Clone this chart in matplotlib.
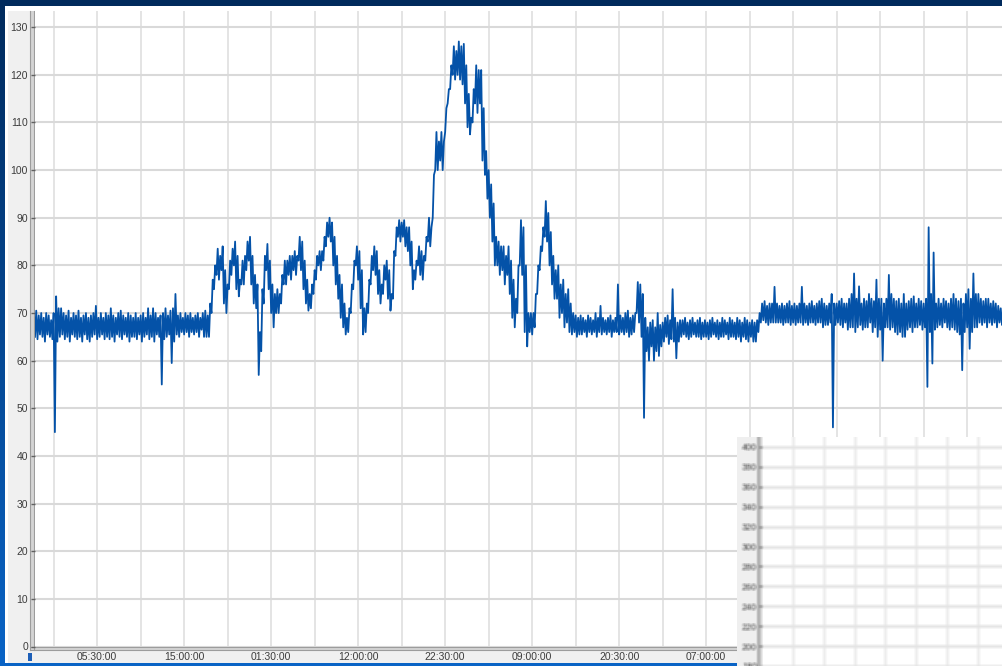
import numpy as np
import matplotlib
matplotlib.use("Agg")
from matplotlib import pyplot as plt
from matplotlib import patches
from matplotlib.colors import LinearSegmentedColormap
from matplotlib.figure import Figure
from matplotlib.backends.backend_agg import FigureCanvasAgg

W, H = 1003, 666

# heart rate per 0.3 h interval: lowest and highest reading in each interval
hr_lo = [
    65, 64.5, 65.5, 65, 64, 65.5, 65, 64.5, 45, 64,
    65, 65.5, 64.5, 65, 64, 65.5, 65, 64.5, 65, 64,
    65.5, 64.5, 64, 65, 65.5, 64.5, 65, 65.5, 64.5, 65,
    64.5, 65, 64, 65.5, 65, 64.5, 65.5, 65, 64, 65,
    65, 64.5, 65.5, 64, 65, 65.5, 64.5, 65, 64, 65.5,
    65, 55, 64.5, 65, 65.5, 59.5, 64, 65.5, 65, 66,
    65.5, 66, 65, 66, 65.5, 66, 65, 66.5, 65, 65,
    65, 70, 75, 78, 77, 79, 72, 70, 75, 78,
    80, 75, 73.5, 76, 76, 79, 81, 76, 72, 71,
    57, 62, 72, 79, 75, 70, 67, 70, 70, 72,
    76, 76, 78, 77, 79, 78, 81, 79, 75, 72,
    70.5, 71, 74, 77, 80, 79, 81, 84, 86, 85,
    80, 76, 73, 69, 67, 65.5, 66, 70, 75, 80,
    77, 71, 65.5, 66, 70, 76, 79, 78, 74, 72,
    74, 77, 73, 70.5, 73, 82, 86, 85, 86, 84,
    83, 80, 75, 77, 80, 78, 77, 81, 85, 84,
    90, 100, 100, 102, 100, 108, 114, 117, 120, 119,
    120, 119, 118, 114, 109, 107.5, 110, 114, 112, 114,
    102, 99, 94, 90, 85, 80, 80, 78, 79, 76,
    78, 74, 69, 67, 70, 80, 78, 66, 63, 66,
    65.5, 67, 74, 79, 83, 86, 85, 80, 76, 73,
    73, 69, 70, 67, 68, 66, 65.5, 66, 65, 65.5,
    65.5, 66, 65, 66, 65.5, 66, 65, 66, 65.5, 66,
    65.5, 66, 65, 66, 66, 65.5, 66, 65.5, 66, 65,
    65.5, 66, 70, 68, 65, 48, 62, 60, 63, 60,
    62, 61, 63, 64, 65, 63.5, 64.5, 64, 60.5, 64,
    65, 65.5, 65, 64.5, 65, 65.5, 65, 65, 64.5, 65,
    65, 64.5, 65, 65.5, 65, 64.5, 65, 65, 65.5, 64.5,
    65, 65, 64.5, 65, 64, 65, 64.5, 64, 65, 64,
    64, 66, 68, 68.5, 68, 67.5, 68, 68, 68, 68,
    68, 67.5, 68, 68, 67.5, 68, 67.5, 68, 68, 67.5,
    68, 67.5, 68, 68, 67.5, 68, 68, 67, 67.5, 67.5,
    68, 46, 67.5, 68, 67.5, 67, 68, 66.5, 67, 67,
    66, 67, 67.5, 66.5, 67, 67, 68, 66, 67, 65,
    66.5, 60, 67, 67, 66.5, 67, 66, 65.5, 66, 65,
    65, 66.5, 67, 66, 67, 67, 67.5, 66.5, 67, 54.5,
    66, 59.4, 66.5, 67, 67.5, 67, 68, 67, 66.5, 67,
    66.5, 66, 65.5, 58, 66, 67, 62.5, 66, 67, 67,
    68, 67.5, 68, 67, 68, 67.5, 68, 67, 68, 67.5,
]
hr_hi = [
    70.5, 69.5, 70, 69, 70, 69.5, 68.5, 70, 73.5, 71,
    71, 70, 69.5, 70.5, 69, 70, 69.5, 70.5, 69, 69.5,
    70, 69, 69.5, 70, 71.5, 69, 70, 69, 70, 69.5,
    71, 69.5, 69, 70, 70.5, 69.5, 69, 70, 69.5, 69,
    70, 69, 69.5, 70, 69, 71, 69.5, 71, 70, 69,
    69.5, 70, 71, 69.5, 70.5, 71, 74, 69.5, 70, 69,
    70, 69.5, 70, 69, 69.5, 70, 69, 70, 70.5, 69.5,
    72, 77, 80, 83.5, 82, 84, 79, 76, 81, 83.5,
    85, 82, 77, 81, 82, 85, 86, 82, 78, 76,
    66, 75, 82, 84.5, 81, 76, 74, 75, 74, 78,
    81, 81, 82, 82, 83, 82, 86, 85, 81, 77,
    74, 76, 79, 82, 83, 83, 86, 89, 90, 89,
    86, 82, 78, 76, 72, 69, 71, 76, 81, 84,
    83, 79, 71, 72, 77, 82, 84, 83, 79, 76,
    80, 81, 79, 74, 83, 88, 89.5, 89, 89.5, 88,
    88, 85, 79, 81, 84, 83, 82, 86, 90, 88,
    99, 108, 106, 108, 106, 113, 117, 122, 126, 125,
    127, 126, 126.5, 122, 116, 111, 117, 122, 121, 121,
    113, 104, 100, 97, 93, 86, 85, 84, 84, 82,
    84, 81, 77, 73, 80, 89.5, 88, 80, 70, 70,
    70, 74, 80, 84, 88, 93.5, 91, 87, 82, 79,
    80, 76, 77, 74, 75, 72, 70, 69.5, 69, 69.5,
    69, 68.5, 69.5, 69, 68.5, 70, 69, 71.5, 69, 68.5,
    69, 69.5, 68.5, 69, 76, 69.5, 69, 70, 70.5, 69,
    69.5, 70, 76.5, 76, 74, 69, 67, 68, 68.5, 67,
    70, 67.5, 68, 69, 69.5, 68.5, 75, 69, 68, 68.5,
    68.5, 69, 68, 68.5, 69, 68, 68.5, 69, 68, 68.5,
    68, 68.5, 69, 68, 68.5, 68, 69, 68.5, 68, 69,
    68.5, 68, 69, 68.5, 68, 69, 68.5, 68, 68.5, 68,
    68.5, 70, 72, 72.5, 71.5, 72, 72, 75.5, 72, 71.5,
    72, 71.5, 72, 72.5, 71.5, 72, 71.5, 72, 75.5, 72,
    71.5, 72, 72.5, 71.5, 72, 72.5, 73, 72, 71.5, 72,
    74, 72, 72, 72.5, 73, 72, 72, 73, 74, 78.3,
    73, 75.6, 72, 73, 72.5, 74, 73, 72.5, 77, 73,
    73, 72, 73, 78, 74, 73, 72.5, 73, 72, 74,
    72, 72.5, 73, 73.5, 72, 73, 72.5, 72, 73, 88,
    74, 82.7, 72, 73, 72, 73, 72.5, 72, 73, 74,
    73, 72.5, 73, 72, 74, 75, 73, 78.3, 74, 74,
    73, 72.5, 73, 73, 72, 72.5, 72, 71.5, 71, 71,
]
step_h = 0.3

time_labels = ["05:30:00", "15:00:00", "01:30:00", "12:00:00",
               "22:30:00", "09:00:00", "20:30:00", "07:00:00"]
y_ticks = list(range(0, 131, 10))
inset_ticks = list(range(180, 401, 20))

plt.rcParams['font.family'] = ['Liberation Sans', 'DejaVu Sans']

fig = plt.figure(figsize=(W / 100, H / 100), dpi=100)

# window frame, drawn in pixel units
bg = fig.add_axes([0, 0, 1, 1], zorder=0)
bg.set_xlim(0, W)
bg.set_ylim(H, 0)
bg.axis('off')
frame = LinearSegmentedColormap.from_list('frame', ['#002a5c', '#0a64c6'])
bg.imshow(np.linspace(0, 1, 256)[:, None], cmap=frame, extent=(0, W, H, 0),
          aspect='auto')
bg.add_patch(patches.Rectangle((5, 6), W - 5, 657, color='white', lw=0))
bg.add_patch(patches.Rectangle((8, 11), 22, 652, color='#f0f0f0', lw=0))
bg.add_patch(patches.Rectangle((8, 650), W - 8, 13, color='#f0f0f0', lw=0))
bg.add_patch(patches.Rectangle((30, 11), 5, 639, color='#d4d4d4', lw=0))
bg.add_patch(patches.Rectangle((30, 646), W - 30, 4, color='#d4d4d4', lw=0))
for xx in (30.5, 34.5):
    bg.plot([xx, xx], [11, 650], color='#9c9c9c', lw=0.8)
for yy in (646.5, 649.5):
    bg.plot([30, W], [yy, yy], color='#9c9c9c', lw=0.8)
bg.add_patch(patches.Rectangle((28, 653), 4, 8, color='#1d5fb8', lw=0))

# main heart rate chart: trace runs low -> high inside every interval
ax = fig.add_axes([35 / W, (H - 646.5) / H, (W - 35) / W, (646.5 - 11) / H],
                  zorder=1)
t = np.arange(len(hr_lo)) * step_h
trace_t = np.column_stack([t, t + step_h / 2]).ravel()
trace_v = np.column_stack([hr_lo, hr_hi]).ravel()
ax.plot(trace_t, trace_v, color='#0452a8', lw=1.3, solid_joinstyle='round')
ax.set_xlim(0, (W - 35) / 8.286)
ax.set_ylim(0, 133.4)
ax.set_yticks(y_ticks)
ax.set_xticks(7.5 + 10.5 * np.arange(len(time_labels)))
ax.set_xticklabels(time_labels)
ax.set_xticks(np.arange(2.25, 117, 5.25), minor=True)
ax.grid(axis='y', color='#d9d9d9', lw=1.5)
ax.grid(axis='x', which='both', color='#e4e4e4', lw=1.4)
ax.set_axisbelow(True)
for s in ax.spines.values():
    s.set_visible(False)
ax.tick_params(axis='y', length=3, width=1, color='#606060', pad=2,
               labelsize=7.5, labelcolor='#3c3c3c')
ax.tick_params(axis='x', which='both', length=0, pad=4, labelsize=7.5,
               labelcolor='#3c3c3c')

# second chart peeking in at the lower right, rendered soft
iw, ih = 266, 229
f2 = Figure(figsize=(iw / 100, ih / 100), dpi=100)
canvas = FigureCanvasAgg(f2)
f2.patch.set_facecolor('white')
ib = f2.add_axes([0, 0, 1, 1])
ib.set_xlim(0, iw)
ib.set_ylim(ih, 0)
ib.axis('off')
ib.add_patch(patches.Rectangle((0, 0), 20, ih, color='#efefef', lw=0))
ib.add_patch(patches.Rectangle((20, 0), 5, ih, color='#d0d0d0', lw=0))
for xx in (20.5, 24.5):
    ib.plot([xx, xx], [0, ih], color='#909090', lw=1)
ia = f2.add_axes([25 / iw, 0, (iw - 25) / iw, 1])
ia.set_xlim(0, iw - 25)
ia.set_ylim(410 - ih, 410)
ia.set_yticks(inset_ticks)
ia.set_xticks(np.arange(31, 240, 30.8))
ia.set_xticklabels([])
ia.grid(axis='y', color='#e4e4e4', lw=2.0)
ia.grid(axis='x', color='#ececec', lw=2.0)
for s in ia.spines.values():
    s.set_visible(False)
ia.tick_params(axis='y', length=2.5, width=1, color='#606060', pad=1.2,
               labelsize=6.5, labelcolor='#383838')
ia.tick_params(axis='x', length=0)
canvas.draw()
img = np.asarray(canvas.buffer_rgba()).astype(float)


def box_blur(a, r):
    p = np.pad(a, ((r, r), (r, r), (0, 0)), mode='edge')
    out = np.zeros_like(a)
    n = 2 * r + 1
    for dy in range(n):
        for dx in range(n):
            out += p[dy:dy + a.shape[0], dx:dx + a.shape[1]]
    return out / (n * n)


img = box_blur(img, 1)
img[..., 3] = 255
fig.figimage(img.astype(np.uint8), xo=737, yo=0, origin='upper', zorder=5)

fig.savefig('out.png', dpi=100)
